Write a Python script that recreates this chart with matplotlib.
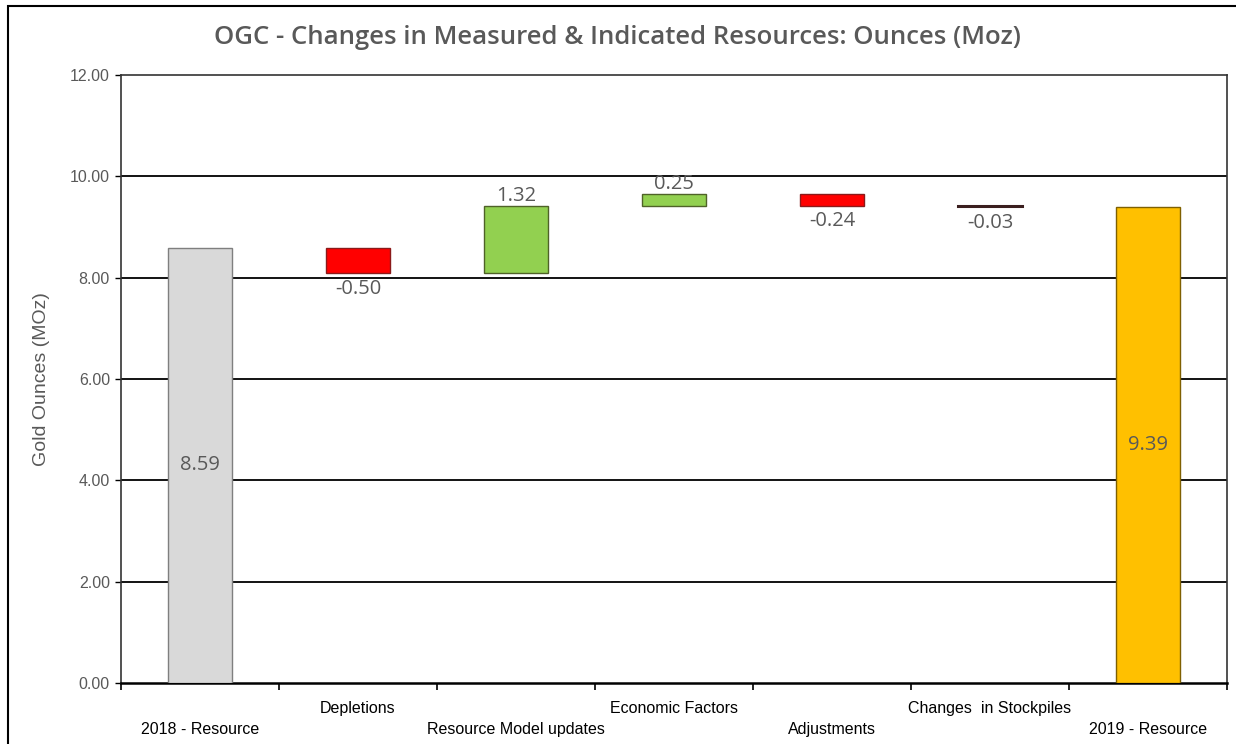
import numpy as np
import matplotlib
matplotlib.use('Agg')
import matplotlib.pyplot as plt
from matplotlib.patches import Rectangle

# Data
categories = ['2018 - Resource', 'Depletions', 'Resource Model updates', 'Economic Factors',
              'Adjustments', 'Changes  in Stockpiles', '2019 - Resource']
values = [8.59, -0.50, 1.32, 0.25, -0.24, -0.03, 9.39]
is_total = [True, False, False, False, False, False, True]
labels = ['8.59', '-0.50', '1.32', '0.25', '-0.24', '-0.03', '9.39']
yticks = [0, 2, 4, 6, 8, 10, 12]

# Colours
face = ['#d9d9d9', '#ff0000', '#92d050', '#92d050', '#ff0000', '#ff0000', '#ffc000']
edge = ['#7f7f7f', '#8b1a1a', '#4f6228', '#4f6228', '#8b1a1a', '#3b1f1f', '#7f6000']
txt = '#595959'

# waterfall bottoms
bottoms = []
heights = []
run = 0.0
for v, tot in zip(values, is_total):
    if tot:
        bottoms.append(0.0)
        heights.append(v)
        run = v
    else:
        if v >= 0:
            bottoms.append(run)
        else:
            bottoms.append(run + v)
        heights.append(abs(v))
        run = run + v

fig = plt.figure(figsize=(12.36, 7.44), dpi=100)
ax = fig.add_axes([121/1236, 1 - 683/744, (1227 - 121)/1236, (683 - 75)/744])

x = np.arange(len(categories))
for i in range(len(x)):
    if heights[i] < 0.05:
        ax.plot([x[i] - 0.2, x[i] + 0.2], [bottoms[i] + heights[i] / 2] * 2, color=edge[i], lw=2.2, zorder=3)
    else:
        ax.bar(x[i], heights[i], bottom=bottoms[i], width=0.40, color=face[i], edgecolor=edge[i], linewidth=1.0, zorder=3)

# data labels
for i in range(len(x)):
    if is_total[i]:
        ax.text(x[i], heights[i] / 2, labels[i], ha='center', va='center', color=txt, fontsize=14.5, family='Open Sans', zorder=4)
    elif values[i] >= 0:
        ax.text(x[i], bottoms[i] + heights[i] + 0.0, labels[i], ha='center', va='bottom', color=txt, fontsize=14.5, family='Open Sans', zorder=4)
    else:
        ax.text(x[i], bottoms[i] - 0.11, labels[i], ha='center', va='top', color=txt, fontsize=14.5, family='Open Sans', zorder=4)

ax.set_xlim(-0.5, len(x) - 0.5)
ax.set_ylim(0, 12)
ax.set_yticks(yticks)
ax.set_yticklabels(['%.2f' % t for t in yticks], color=txt, fontsize=11.5, family='Liberation Sans')
for t in yticks[1:-1]:
    ax.axhline(t, color='black', lw=1.3, zorder=1)

# category boundary ticks
ax.set_xticks(np.arange(-0.5, len(x), 1.0))
ax.set_xticklabels([])
ax.tick_params(axis='x', direction='out', length=5, width=1.2, color='black')
ax.tick_params(axis='y', direction='out', length=4, width=1, color='black', pad=4)

# staggered category labels
for i in range(len(x)):
    yy = -0.077 if i % 2 == 0 else -0.042
    ax.text(x[i], yy, categories[i], transform=ax.get_xaxis_transform(), ha='center', va='center',
            fontsize=11.5, color='black', family='Liberation Sans')

for s in ['left', 'right', 'top']:
    ax.spines[s].set_color('#333333')
    ax.spines[s].set_linewidth(1.2)
ax.spines['bottom'].set_color('black')
ax.spines['bottom'].set_linewidth(1.8)

ax.set_ylabel('Gold Ounces (MOz)', color=txt, fontsize=14, family='Liberation Sans', labelpad=14)

fig.text(617/1236, 1 - 38/744, 'OGC - Changes in Measured & Indicated Resources: Ounces (Moz)',
         ha='center', va='center', fontsize=18.5, fontweight='semibold', color=txt, family='Open Sans')

# figure border (left and top only visible)
fig.patches.append(Rectangle((8/1236, -0.5), 2, 0.5 + (1 - 6/744), transform=fig.transFigure,
                             fill=False, edgecolor='black', lw=1.5))

fig.savefig('out.png', dpi=100)
